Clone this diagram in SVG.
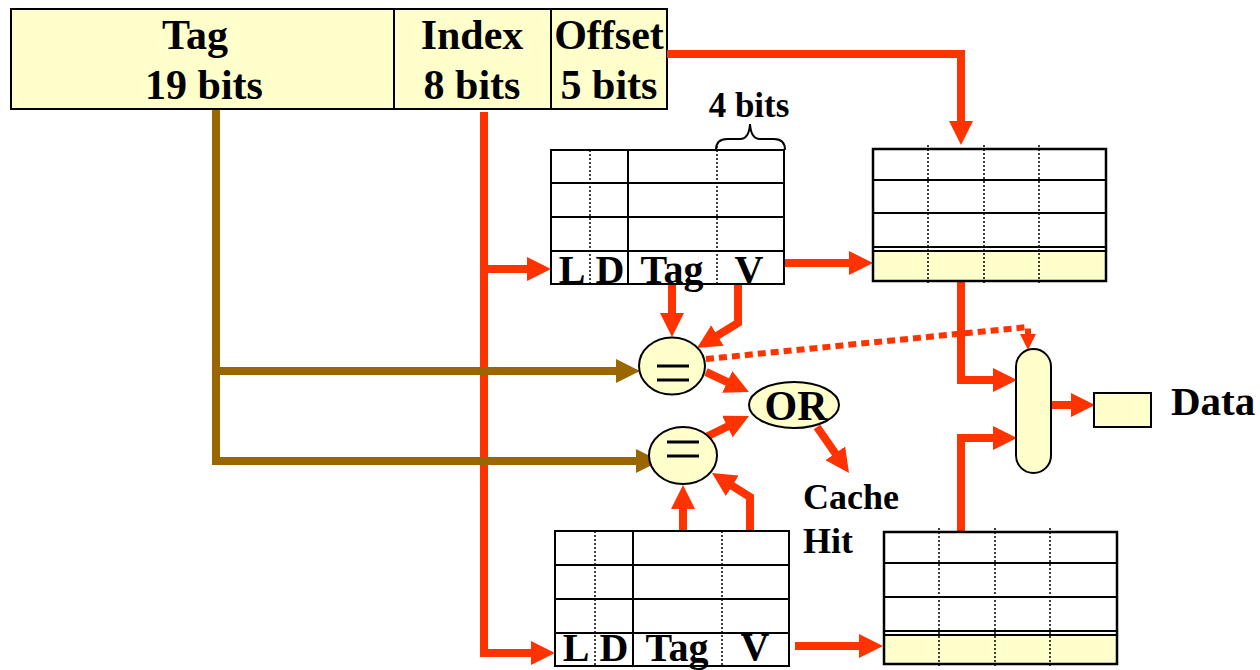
<svg xmlns="http://www.w3.org/2000/svg" width="1260" height="670" viewBox="0 0 1260 670">
<style>
.t{font-family:"Liberation Serif","Times New Roman",serif;font-weight:bold;fill:#000}
.big{font-size:42px}
.lbl{font-size:40px}
.mid{font-size:36px}
.box{fill:#FFFFCC;stroke:#000;stroke-width:2}
.tb{fill:#fff;stroke:#000;stroke-width:2}
.ln{stroke:#000;stroke-width:2;fill:none}
.dl{stroke:#000;stroke-width:1.5;stroke-dasharray:2 2;fill:none}
.red{stroke:#FF3300;stroke-width:8;fill:none}
.brn{stroke:#996600;stroke-width:8;fill:none}
.eq{stroke:#000;stroke-width:3}
</style>
<defs>
<marker id="ar" viewBox="0 0 24 24" markerWidth="24" markerHeight="24" refX="14" refY="12" orient="auto" markerUnits="userSpaceOnUse"><path d="M0,0 L24,12 L0,24 z" fill="#FF3300"/></marker>
<marker id="ab" viewBox="0 0 24 24" markerWidth="24" markerHeight="24" refX="14" refY="12" orient="auto" markerUnits="userSpaceOnUse"><path d="M0,0 L24,12 L0,24 z" fill="#996600"/></marker>
<marker id="as" viewBox="0 0 16 16" markerWidth="16" markerHeight="16" refX="6" refY="8" orient="auto" markerUnits="userSpaceOnUse"><path d="M0,0 L16,8 L0,16 z" fill="#FF3300"/></marker>
</defs>
<rect width="1260" height="670" fill="#fff"/>

<g id="address">
<rect class="box" x="11" y="9" width="656" height="100"/>
<line class="ln" x1="394" y1="9" x2="394" y2="109"/>
<line class="ln" x1="551" y1="9" x2="551" y2="109"/>
<text class="t big" x="195" y="49" text-anchor="middle">Tag</text>
<text class="t big" x="204" y="99" text-anchor="middle">19 bits</text>
<text class="t big" x="472" y="49" text-anchor="middle">Index</text>
<text class="t big" x="472" y="99" text-anchor="middle">8 bits</text>
<text class="t big" x="609" y="49" text-anchor="middle">Offset</text>
<text class="t big" x="609" y="99" text-anchor="middle">5 bits</text>
</g>

<g id="connectors">
<path class="red" d="M484,112 V653 H545" marker-end="url(#ar)"/>
<path class="red" d="M484,269 H541" marker-end="url(#ar)"/>
<path class="brn" d="M216,110 V461 H650" marker-end="url(#ab)"/>
<path class="brn" d="M216,371 H630" marker-end="url(#ab)"/>
<path class="red" d="M667,54 H961 V135" marker-end="url(#ar)"/>
<path class="red" d="M784,263 H863" marker-end="url(#ar)"/>
<path class="red" d="M672,285 V327" marker-end="url(#ar)"/>
<path class="red" d="M738,285 V323 L705.5,342.8" marker-end="url(#ar)"/>
<path class="red" d="M706,372 L739.9,387.8" marker-end="url(#ar)"/>
<path class="red" d="M706,437 L740,420.4" marker-end="url(#ar)"/>
<path class="red" d="M817,427 L843.3,464.8" marker-end="url(#ar)"/>
<path class="red" d="M961,281 V380 H1007" marker-end="url(#ar)"/>
<path class="red" d="M961,540 V438 H1007" marker-end="url(#ar)"/>
<path class="red" d="M1051,405 H1085" marker-end="url(#ar)"/>
<path class="red" d="M683,531 V495" marker-end="url(#ar)"/>
<path class="red" d="M750,531 V497 L720.4,478.3" marker-end="url(#ar)"/>
<path class="red" d="M795,646 H873" marker-end="url(#ar)"/>
<path d="M706,359 L1028,327 V340" fill="none" stroke="#FF3300" stroke-width="6" stroke-dasharray="8 5" marker-end="url(#as)"/>
</g>

<g id="tag-table-1">
<rect class="tb" x="551" y="150" width="233" height="134"/>
<line class="ln" x1="551" y1="183" x2="784" y2="183"/>
<line class="ln" x1="551" y1="217" x2="784" y2="217"/>
<line class="ln" x1="551" y1="251" x2="784" y2="251"/>
<line class="ln" x1="628" y1="150" x2="628" y2="284"/>
<line class="dl" x1="590" y1="150" x2="590" y2="284"/>
<line class="dl" x1="717" y1="146" x2="717" y2="284"/>
<text class="t lbl" x="572" y="283" text-anchor="middle">L</text>
<text class="t lbl" x="610" y="283" text-anchor="middle">D</text>
<text class="t lbl" x="672" y="283" text-anchor="middle">Tag</text>
<text class="t lbl" x="749" y="283" text-anchor="middle">V</text>
</g>

<g id="brace">
<path d="M716,150 Q716,139 727,139 L740,139 Q749,139 750,124 Q751,139 760,139 L774,139 Q785,139 785,150" fill="none" stroke="#000" stroke-width="2"/>
<text class="t" font-size="35" x="749" y="117" text-anchor="middle">4 bits</text>
</g>

<g id="data-table-1">
<rect class="tb" x="873" y="149" width="233" height="132"/>
<rect x="873" y="251" width="233" height="30" fill="#FFFFCC"/>
<line class="ln" x1="873" y1="180" x2="1106" y2="180"/>
<line class="ln" x1="873" y1="213" x2="1106" y2="213"/>
<line class="ln" x1="873" y1="247" x2="1106" y2="247"/>
<line class="ln" x1="873" y1="251" x2="1106" y2="251"/>
<rect x="873" y="149" width="233" height="132" fill="none" stroke="#000" stroke-width="2.5"/>
<line class="dl" x1="928" y1="145" x2="928" y2="284"/>
<line class="dl" x1="984" y1="145" x2="984" y2="284"/>
<line class="dl" x1="1039" y1="145" x2="1039" y2="284"/>
</g>

<g id="tag-table-2">
<rect class="tb" x="555" y="531" width="234" height="135"/>
<line class="ln" x1="555" y1="565" x2="789" y2="565"/>
<line class="ln" x1="555" y1="599" x2="789" y2="599"/>
<line class="ln" x1="555" y1="633" x2="789" y2="633"/>
<line class="ln" x1="633" y1="531" x2="633" y2="666"/>
<line class="dl" x1="595" y1="531" x2="595" y2="666"/>
<line class="dl" x1="722" y1="531" x2="722" y2="666"/>
<text class="t lbl" x="576" y="661" text-anchor="middle">L</text>
<text class="t lbl" x="614" y="661" text-anchor="middle">D</text>
<text class="t lbl" x="677" y="661" text-anchor="middle">Tag</text>
<text class="t lbl" x="755" y="660" text-anchor="middle">V</text>
</g>

<g id="data-table-2">
<rect class="tb" x="884" y="532" width="233" height="132"/>
<rect x="884" y="635" width="233" height="29" fill="#FFFFCC"/>
<line class="ln" x1="884" y1="563" x2="1117" y2="563"/>
<line class="ln" x1="884" y1="597" x2="1117" y2="597"/>
<line class="ln" x1="884" y1="631" x2="1117" y2="631"/>
<line class="ln" x1="884" y1="635" x2="1117" y2="635"/>
<rect x="884" y="532" width="233" height="132" fill="none" stroke="#000" stroke-width="2.5"/>
<line class="dl" x1="939" y1="528" x2="939" y2="666"/>
<line class="dl" x1="995" y1="528" x2="995" y2="666"/>
<line class="dl" x1="1050" y1="528" x2="1050" y2="666"/>
</g>

<g id="compare-1">
<ellipse class="box" cx="672" cy="366" rx="33" ry="28.5"/>
<line class="eq" x1="657" y1="366" x2="689" y2="366"/>
<line class="eq" x1="657" y1="380" x2="689" y2="380"/>
</g>

<g id="compare-2">
<ellipse class="box" cx="683" cy="455.5" rx="34" ry="28.5"/>
<line class="eq" x1="667" y1="442" x2="699" y2="442"/>
<line class="eq" x1="667" y1="456" x2="699" y2="456"/>
</g>

<g id="or-gate">
<ellipse class="box" cx="794" cy="405" rx="45" ry="23"/>
<text class="t" font-size="42" x="796" y="420" text-anchor="middle">OR</text>
</g>

<g id="cache-hit">
<text class="t mid" x="803" y="509">Cache</text>
<text class="t mid" x="803" y="553">Hit</text>
</g>

<g id="mux">
<rect class="box" x="1016" y="349" width="35" height="124" rx="17.5" ry="17.5"/>
</g>

<g id="data">
<rect class="box" x="1094" y="393" width="57" height="34"/>
<text class="t" font-size="41" x="1171" y="415">Data</text>
</g>
</svg>
